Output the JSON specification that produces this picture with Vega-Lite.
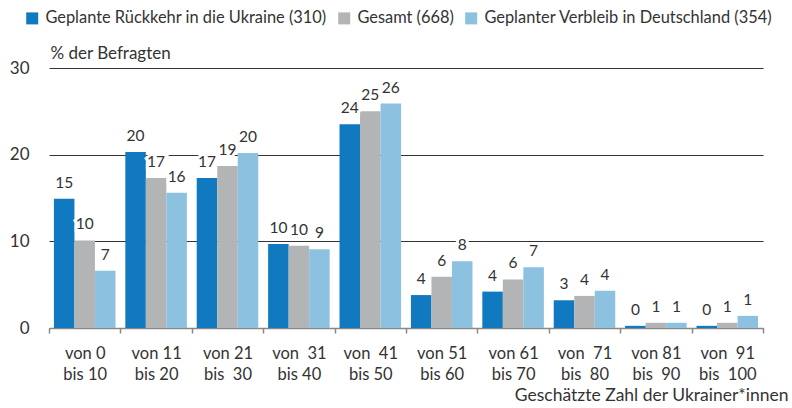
{
  "$schema": "https://vega.github.io/schema/vega-lite/v6.json",
  "width": 714,
  "height": 260,
  "autosize": "none",
  "padding": {"left": 49, "top": 68, "right": 29, "bottom": 80},
  "config": {"font": "Lato", "view": {"stroke": null}},
  "data": {
    "values": [
      {"gruppe": "von 0|bis 10", "serie": "Geplante Rückkehr in die Ukraine (310)", "wert": 14.9, "label": "15"},
      {"gruppe": "von 0|bis 10", "serie": "Gesamt (668)", "wert": 10.1, "label": "10"},
      {"gruppe": "von 0|bis 10", "serie": "Geplanter Verbleib in Deutschland (354)", "wert": 6.6, "label": "7"},
      {"gruppe": "von 11|bis 20", "serie": "Geplante Rückkehr in die Ukraine (310)", "wert": 20.3, "label": "20"},
      {"gruppe": "von 11|bis 20", "serie": "Gesamt (668)", "wert": 17.3, "label": "17"},
      {"gruppe": "von 11|bis 20", "serie": "Geplanter Verbleib in Deutschland (354)", "wert": 15.6, "label": "16"},
      {"gruppe": "von 21|bis\u00a0\u00a030", "serie": "Geplante Rückkehr in die Ukraine (310)", "wert": 17.3, "label": "17"},
      {"gruppe": "von 21|bis\u00a0\u00a030", "serie": "Gesamt (668)", "wert": 18.7, "label": "19"},
      {"gruppe": "von 21|bis\u00a0\u00a030", "serie": "Geplanter Verbleib in Deutschland (354)", "wert": 20.2, "label": "20"},
      {"gruppe": "von\u00a0\u00a031|bis 40", "serie": "Geplante Rückkehr in die Ukraine (310)", "wert": 9.7, "label": "10"},
      {"gruppe": "von\u00a0\u00a031|bis 40", "serie": "Gesamt (668)", "wert": 9.5, "label": "10"},
      {"gruppe": "von\u00a0\u00a031|bis 40", "serie": "Geplanter Verbleib in Deutschland (354)", "wert": 9.1, "label": "9"},
      {"gruppe": "von\u00a0\u00a041|bis 50", "serie": "Geplante Rückkehr in die Ukraine (310)", "wert": 23.5, "label": "24"},
      {"gruppe": "von\u00a0\u00a041|bis 50", "serie": "Gesamt (668)", "wert": 25.0, "label": "25"},
      {"gruppe": "von\u00a0\u00a041|bis 50", "serie": "Geplanter Verbleib in Deutschland (354)", "wert": 25.9, "label": "26"},
      {"gruppe": "von 51|bis 60", "serie": "Geplante Rückkehr in die Ukraine (310)", "wert": 3.8, "label": "4"},
      {"gruppe": "von 51|bis 60", "serie": "Gesamt (668)", "wert": 5.9, "label": "6"},
      {"gruppe": "von 51|bis 60", "serie": "Geplanter Verbleib in Deutschland (354)", "wert": 7.7, "label": "8"},
      {"gruppe": "von 61|bis 70", "serie": "Geplante Rückkehr in die Ukraine (310)", "wert": 4.2, "label": "4"},
      {"gruppe": "von 61|bis 70", "serie": "Gesamt (668)", "wert": 5.6, "label": "6"},
      {"gruppe": "von 61|bis 70", "serie": "Geplanter Verbleib in Deutschland (354)", "wert": 7.0, "label": "7"},
      {"gruppe": "von\u00a0\u00a071|bis\u00a0\u00a080", "serie": "Geplante Rückkehr in die Ukraine (310)", "wert": 3.2, "label": "3"},
      {"gruppe": "von\u00a0\u00a071|bis\u00a0\u00a080", "serie": "Gesamt (668)", "wert": 3.7, "label": "4"},
      {"gruppe": "von\u00a0\u00a071|bis\u00a0\u00a080", "serie": "Geplanter Verbleib in Deutschland (354)", "wert": 4.3, "label": "4"},
      {"gruppe": "von 81|bis\u00a0\u00a090", "serie": "Geplante Rückkehr in die Ukraine (310)", "wert": 0.25, "label": "0"},
      {"gruppe": "von 81|bis\u00a0\u00a090", "serie": "Gesamt (668)", "wert": 0.6, "label": "1"},
      {"gruppe": "von 81|bis\u00a0\u00a090", "serie": "Geplanter Verbleib in Deutschland (354)", "wert": 0.6, "label": "1"},
      {"gruppe": "von\u00a0\u00a091|bis\u00a0\u00a0100", "serie": "Geplante Rückkehr in die Ukraine (310)", "wert": 0.25, "label": "0"},
      {"gruppe": "von\u00a0\u00a091|bis\u00a0\u00a0100", "serie": "Gesamt (668)", "wert": 0.6, "label": "1"},
      {"gruppe": "von\u00a0\u00a091|bis\u00a0\u00a0100", "serie": "Geplanter Verbleib in Deutschland (354)", "wert": 1.4, "label": "1"}
    ]
  },
  "encoding": {
    "x": {
      "field": "gruppe",
      "type": "nominal",
      "sort": null,
      "scale": {"paddingInner": 0, "paddingOuter": 0},
      "axis": {
        "tickBand": "extent",
        "tickSize": 5,
        "tickColor": "#888888",
        "tickWidth": 1.5,
        "domainColor": "#888888",
        "domainWidth": 1.5,
        "labelAngle": 0,
        "labelExpr": "split(datum.label, '|')",
        "labelFontSize": 16.5,
        "labelLineHeight": 21,
        "labelPadding": 12,
        "labelColor": "#333333",
        "title": "Geschätzte Zahl der Ukrainer*innen",
        "titleFontSize": 17.5,
        "titleFontWeight": "normal",
        "titleColor": "#333333",
        "titleAlign": "right",
        "titleAnchor": "end",
        "titleBaseline": "alphabetic",
        "titleX": 739,
        "titleY": 72
      }
    },
    "xOffset": {
      "field": "serie",
      "type": "nominal",
      "sort": ["Geplante Rückkehr in die Ukraine (310)", "Gesamt (668)", "Geplanter Verbleib in Deutschland (354)"],
      "scale": {"paddingInner": 0, "paddingOuter": 0.24}
    },
    "y": {
      "field": "wert",
      "type": "quantitative",
      "scale": {"domain": [0, 30], "nice": false},
      "axis": {
        "values": [0, 10, 20, 30],
        "domain": false,
        "ticks": false,
        "grid": true,
        "gridColor": "#333333",
        "gridWidth": 1,
        "labelFontSize": 17,
        "labelColor": "#333333",
        "labelPadding": 20,
        "title": "% der Befragten",
        "titleAngle": 0,
        "titleAlign": "left",
        "titleBaseline": "alphabetic",
        "titleFontSize": 17,
        "titleFontWeight": "normal",
        "titleColor": "#333333",
        "titleX": 1,
        "titleY": -10
      }
    }
  },
  "layer": [
    {
      "mark": {"type": "bar"},
      "encoding": {
        "color": {
          "field": "serie",
          "type": "nominal",
          "scale": {
            "domain": ["Geplante Rückkehr in die Ukraine (310)", "Gesamt (668)", "Geplanter Verbleib in Deutschland (354)"],
            "range": ["#1179bf", "#b2b4b6", "#8cc1e0"]
          },
          "legend": {
            "orient": "none",
            "direction": "horizontal",
            "legendX": -25,
            "legendY": -58,
            "padding": 0,
            "title": null,
            "symbolType": "square",
            "symbolSize": 144,
            "symbolStrokeWidth": 0,
            "symbolOpacity": 1,
            "labelFontSize": 16.4,
            "labelColor": "#333333",
            "labelOffset": 5,
            "columnPadding": 9,
            "labelLimit": 400
          }
        }
      }
    },
    {
      "mark": {"type": "text", "baseline": "alphabetic", "dy": -11, "fontSize": 15.5, "stroke": "white", "strokeWidth": 6, "color": "white"},
      "encoding": {"text": {"field": "label"}}
    },
    {
      "mark": {"type": "text", "baseline": "alphabetic", "dy": -11, "fontSize": 15.5, "color": "#333333"},
      "encoding": {"text": {"field": "label"}}
    }
  ]
}
